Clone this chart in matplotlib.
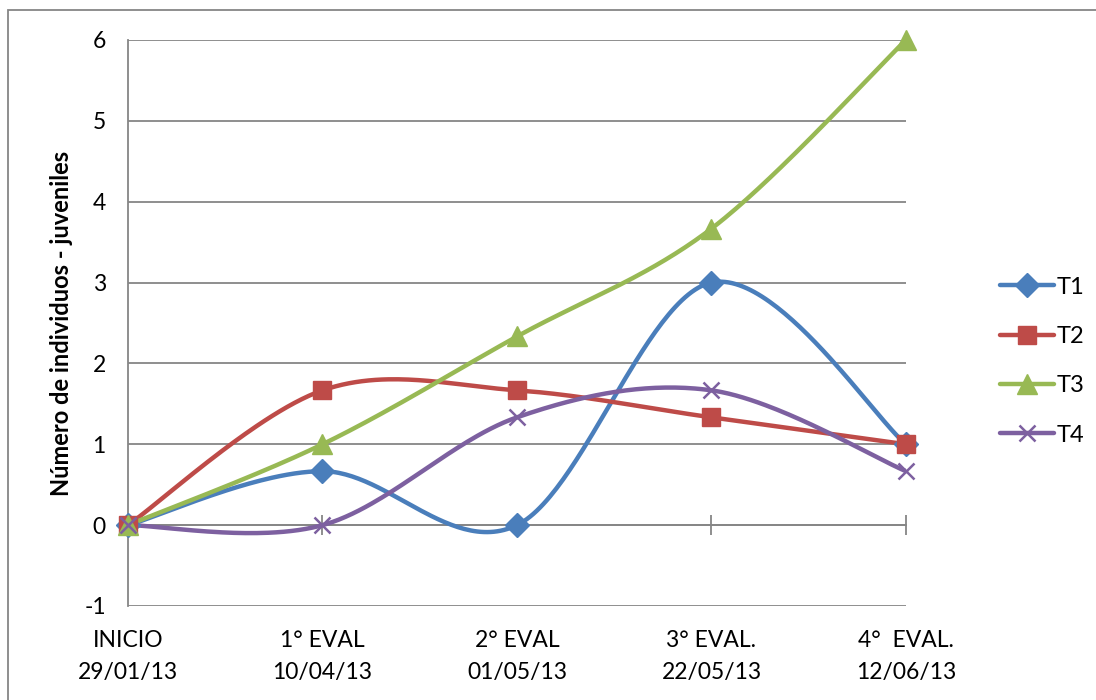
import numpy as np
import matplotlib.pyplot as plt
from matplotlib.patches import Rectangle

plt.rcParams['font.family'] = ['Lato', 'DejaVu Sans']
plt.rcParams['axes.unicode_minus'] = False

# evaluation dates
categories = ['INICIO\n29/01/13', '1° EVAL\n10/04/13', '2° EVAL\n01/05/13',
              '3° EVAL.\n22/05/13', '4°  EVAL.\n12/06/13']

t1 = [0, 0.667, 0, 3, 1]
t2 = [0, 1.667, 1.667, 1.333, 1]
t3 = [0, 1, 2.333, 3.667, 6]
t4 = [0, 0, 1.333, 1.667, 0.667]

series = [
    ('T1', t1, '#4A7EBB', 'D', 12),
    ('T2', t2, '#BE4B48', 's', 13),
    ('T3', t3, '#98B954', '^', 14),
    ('T4', t4, '#7D60A0', 'x', 12),
]


# smoothed curve like a spreadsheet "smoothed line" (cubic bezier through points)
def smooth(xs, ys, steps=60):
    p = np.column_stack([xs, ys]).astype(float)
    n = len(p)
    out = []
    for i in range(n - 1):
        p0 = p[max(i - 1, 0)]
        p1 = p[i]
        p2 = p[i + 1]
        p3 = p[min(i + 2, n - 1)]
        c1 = p1 + (p2 - p0) / 6
        c2 = p2 - (p3 - p1) / 6
        t = np.linspace(0, 1, steps)[:, None]
        seg = ((1 - t) ** 3) * p1 + 3 * ((1 - t) ** 2) * t * c1 + 3 * (1 - t) * t ** 2 * c2 + t ** 3 * p2
        out.append(seg if i == 0 else seg[1:])
    out = np.vstack(out)
    return out[:, 0], out[:, 1]


fig = plt.figure(figsize=(10.96, 7), dpi=100)
ax = fig.add_axes([0.1168, 0.1343, 0.7098, 0.8086])

x = np.arange(len(categories))
handles = []
for name, vals, color, marker, ms in series:
    sx, sy = smooth(x, vals)
    ax.plot(sx, sy, color=color, lw=3.2, zorder=3, solid_capstyle='round')
    mew = 1.8 if marker == 'x' else 1
    ax.plot(x, vals, ls='none', marker=marker, ms=ms, color=color, mec=color,
            mew=mew, zorder=4, clip_on=False)
    h, = ax.plot([], [], color=color, lw=3.2, marker=marker, ms=ms, mec=color,
                 mew=mew, solid_capstyle='round')
    handles.append((h, name))

ax.set_xlim(0, len(categories) - 1)
ax.set_ylim(-1, 6)
ax.set_yticks(range(-1, 7))
ax.set_xticks(x)
ax.set_xticklabels(categories, fontsize=16.5, linespacing=1.65)
ax.tick_params(axis='y', length=0, pad=16, labelsize=16.5)
ax.tick_params(axis='x', length=0, pad=17)
ax.grid(axis='y', color='#868686', lw=1.3)
ax.set_axisbelow(True)
for side in ['top', 'right', 'bottom']:
    ax.spines[side].set_visible(False)
ax.spines['left'].set_color('#868686')
ax.spines['left'].set_linewidth(1.3)

# category axis crosses at y = 0
sec = ax.secondary_xaxis(1 / 7)
sec.set_xticks(x)
sec.set_xticklabels([])
sec.tick_params(direction='inout', length=15, width=1.3, color='#868686')
sec.spines['bottom'].set_color('#868686')
sec.spines['bottom'].set_linewidth(1.3)

ax.set_ylabel('Número de individuos - juveniles', fontsize=17, fontweight='bold', labelpad=8)

fig.legend([h for h, _ in handles], [n for _, n in handles], loc='center left',
           bbox_to_anchor=(0.893, 0.484), frameon=False, fontsize=17,
           handlelength=2.3, handletextpad=0.1, labelspacing=1.2)

fig.patches.append(Rectangle((8 / 1096, -0.01), 1.2, 1 - 10 / 700 + 0.01,
                             transform=fig.transFigure, fill=False,
                             edgecolor='#868686', lw=1.3))

fig.savefig('out.png', dpi=100)
